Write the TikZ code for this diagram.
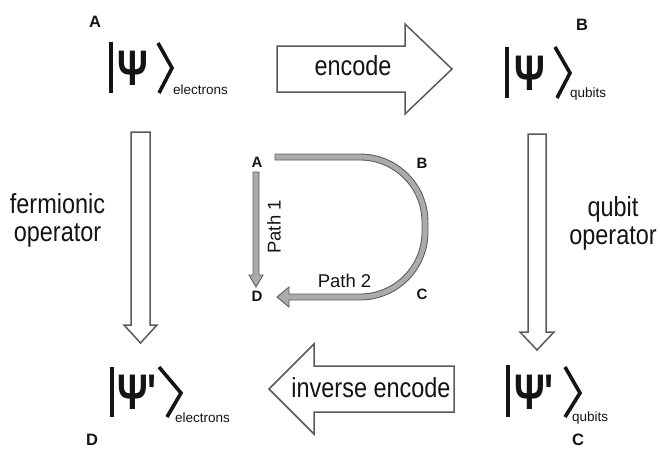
\documentclass[tikz,border=0pt]{standalone}
\usepackage{fontspec}
\setmainfont{Liberation Sans}
\newfontfamily\narrowsans{Liberation Sans}[FakeStretch=0.85]
\newfontfamily\psifont{Liberation Sans}[FakeStretch=0.76]
\definecolor{arrowgray}{HTML}{5A5A5A}
\definecolor{pathfill}{HTML}{ABABAB}
\definecolor{pathline}{HTML}{5E5E5E}
\definecolor{ketblack}{HTML}{141414}
\begin{document}
\begin{tikzpicture}[x=1pt,y=-1pt,
  bigarrow/.style={draw=arrowgray, line width=1.5pt, fill=white, line join=miter},
  patharrow/.style={draw=pathline, line width=0.9pt, fill=pathfill, line join=miter},
  ketline/.style={draw=ketblack, line width=3.6pt, line join=miter},
  mainlbl/.style={font=\narrowsans\fontsize{27.6}{28.5}\selectfont, inner sep=0pt, text=ketblack},
  psilbl/.style={font=\psifont\bfseries\fontsize{50}{50}\selectfont, inner sep=0pt, text=ketblack},
  sublbl/.style={font=\fontsize{13.5}{14}\selectfont, inner sep=0pt, text=ketblack},
  cornerlbl/.style={font=\bfseries\fontsize{16.5}{17}\selectfont, inner sep=0pt, text=ketblack},
  smalllbl/.style={font=\bfseries\fontsize{15}{15}\selectfont, inner sep=0pt, text=ketblack},
  pathlbl/.style={font=\fontsize{18.5}{19}\selectfont, inner sep=0pt, text=ketblack}]
\useasboundingbox (0,0) rectangle (660,448);

% big block arrows
\draw[bigarrow] (277,46) -- (405,46) -- (405,24) -- (452,69) -- (405,114) -- (405,92) -- (277,92) -- cycle;
\draw[bigarrow] (454,366) -- (314,366) -- (314,344) -- (269,389) -- (314,434) -- (314,412) -- (454,412) -- cycle;
\draw[bigarrow] (131,132) -- (150,132) -- (150,325) -- (157,325) -- (140.5,343) -- (124,325) -- (131,325) -- cycle;
\draw[bigarrow] (528,134) -- (546,134) -- (546,332) -- (554,332) -- (537,350) -- (520,332) -- (528,332) -- cycle;

\node[mainlbl] (enc) at (353,66) {encode};
\node[mainlbl] (inv) at (371,388) {inverse encode};
\node[mainlbl, align=center, anchor=north] (ferm) at (57.5,193) {fermionic\\operator};
\node[mainlbl, align=center, anchor=north] (qop) at (613,196) {qubit\\operator};

% kets
\node[psilbl, anchor=base] (psiA) at (133,85) {Ψ};
\draw[ketline] (111,42) -- (111,93);
\draw[ketline] (158,43) -- (172,68) -- (159,93);
\node[sublbl, anchor=base west] (subA) at (173,94) {electrons};

\node[psilbl, anchor=base] (psiB) at (529.5,90) {Ψ};
\draw[ketline] (507,47) -- (507,98);
\draw[ketline] (555,47) -- (570,73) -- (557,98);
\node[sublbl, anchor=base west] (subB) at (570,97) {qubits};

\node[psilbl, anchor=base] (psiD) at (137,409) {Ψ'};
\draw[ketline] (112,367) -- (112,417);
\draw[ketline] (159,367) -- (181,393) -- (167,417);
\node[sublbl, anchor=base west] (subD) at (175,422) {electrons};

\node[psilbl, anchor=base] (psiC) at (534,409) {Ψ'};
\draw[ketline] (508,365) -- (508,417);
\draw[ketline] (565,367) -- (580,393) -- (565,417);
\node[sublbl, anchor=base west] (subC) at (572,421) {qubits};

% corner letters
\node[cornerlbl] (lA) at (95,22) {A};
\node[cornerlbl] (lB) at (582,25) {B};
\node[cornerlbl] (lD) at (92,440) {D};
\node[cornerlbl] (lC) at (578,440) {C};

% central path diagram
\node[smalllbl] (cA) at (257,162) {A};
\node[smalllbl] (cB) at (422,163) {B};
\node[smalllbl] (cC) at (422,294) {C};
\node[smalllbl] (cD) at (257,296) {D};

\draw[patharrow] (253,172) -- (259,172) -- (259,275) -- (263,275) -- (256,287) -- (249,275) -- (253,275) -- cycle;
\draw[patharrow] (275,154) -- (360,154) arc[start angle=-90, end angle=0, radius=68]
  -- (428,232) arc[start angle=0, end angle=90, radius=68]
  -- (289,300) -- (289,307) -- (277,297) -- (289,287) -- (289,294) -- (360,294)
  arc[start angle=90, end angle=0, radius=62] -- (422,222)
  arc[start angle=0, end angle=-90, radius=62] -- (275,160) -- cycle;

\node[pathlbl, rotate=90] (p1) at (274,227) {Path 1};
\node[pathlbl] (p2) at (344.5,281) {Path 2};
\end{tikzpicture}
\end{document}
